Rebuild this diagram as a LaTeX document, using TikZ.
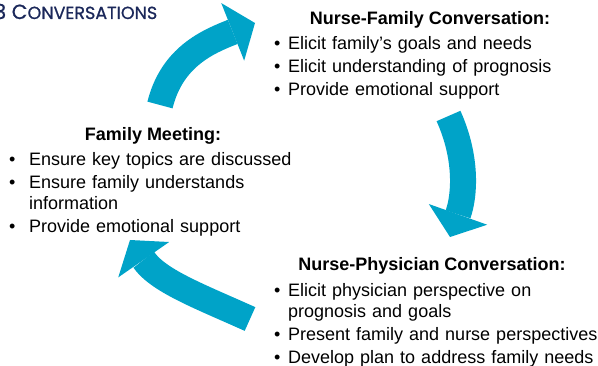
\documentclass[tikz,border=0pt]{standalone}
\usepackage{fontspec}
\setmainfont{Liberation Sans}
\newfontfamily\titlefont[FakeBold=0.8]{Poppins}
\usetikzlibrary{arrows.meta,positioning}
\definecolor{cyclecyan}{RGB}{0,163,200}
\definecolor{titlenavy}{RGB}{27,40,90}
% bullet item with hanging indent
\newcommand{\bul}[2][14pt]{\hangindent=#1\hangafter=1\noindent\makebox[#1][l]{\textbullet}#2\par}
\tikzset{
  headbox/.style={font=\bfseries\fontsize{18}{20}\selectfont, inner sep=0pt, anchor=base},
  listbox/.style={font=\fontsize{18}{20.5}\selectfont\setlength{\parskip}{2.5pt},
    inner sep=0pt, anchor=base west, text width=#1, align=left},
  cyclearrow/.style={draw=cyclecyan, line width=26pt,
    -{Triangle[length=24pt,width=62pt,line width=0pt]}}
}
\begin{document}
\begin{tikzpicture}[x=1pt,y=-1pt]
  \useasboundingbox (0,0) rectangle (598,366);
  \clip (0,0) rectangle (598,366);
  % Title
  \node[anchor=base west, inner sep=0pt, text=titlenavy] (title) at (-6,19)
    {\titlefont\fontsize{20.5}{20}\selectfont 3 C\fontsize{17.5}{17}\selectfont ONVERSATIONS};
  % Headers
  \node[headbox] (nfHead) at (430,25) {Nurse-Family Conversation:};
  \node[headbox] (fmHead) at (153,141) {Family Meeting:};
  \node[headbox] (npHead) at (432,271) {Nurse-Physician Conversation:};
  % Lists
  \node[listbox=320pt] (nfList) at (274,49.5) {%
    \bul{Elicit family’s goals and needs}%
    \bul{Elicit understanding of prognosis}%
    \bul{Provide emotional support}};
  \node[listbox=300pt] (fmList) at (9,166) {%
    \bul[20pt]{Ensure key topics are discussed}%
    \bul[20pt]{Ensure family understands\newline information}%
    \bul[20pt]{Provide emotional support}};
  \node[listbox=330pt] (npList) at (274,297) {%
    \bul{Elicit physician perspective on\newline prognosis and goals}%
    \bul{Present family and nurse perspectives}%
    \bul{Develop plan to address family needs}};
  % Define points
  \coordinate (fmOut) at (160,105);
  \coordinate (nfIn) at (255,23);
  \coordinate (nfOut) at (448.5,116);
  \coordinate (npIn) at (450,237);
  \coordinate (npOut) at (250,319);
  \coordinate (fmIn) at (130,240);
  % Cycle arrows
  \draw[cyclearrow] (fmOut) .. controls (172,56.5) and (208.5,41.5) .. (nfIn);
  \draw[cyclearrow] (nfOut) .. controls (467,157) and (465,194.7) .. (npIn);
  \draw[cyclearrow] (npOut) .. controls (200,296.5) and (158.5,281) .. (fmIn);
\end{tikzpicture}
\end{document}
